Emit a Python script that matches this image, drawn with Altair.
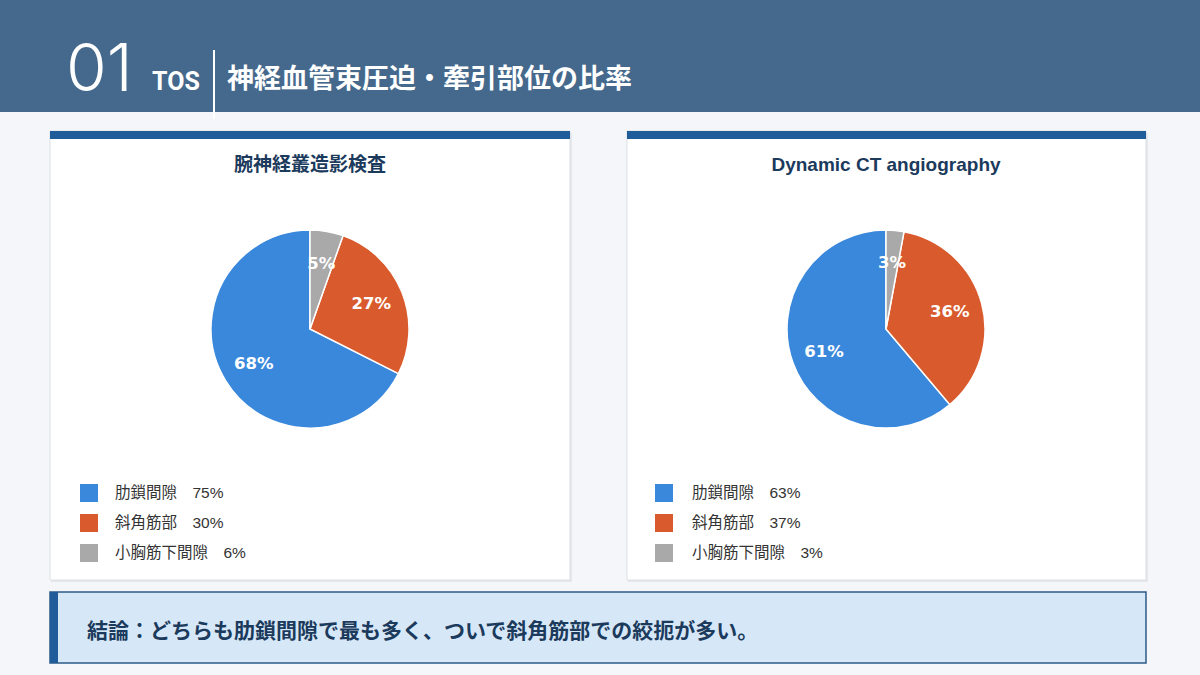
import altair as alt
import pandas as pd

# ---- data ----
categories = ["肋鎖間隙", "斜角筋部", "小胸筋下間隙"]
left_values = [75, 30, 6]
right_values = [63, 37, 3]
colors = ["#3a88dc", "#d95a2c", "#a9a9a9"]
left_title = "腕神経叢造影検査"
right_title = "Dynamic CT angiography"
header_num = "01"
header_tag = "TOS"
header_title = "神経血管束圧迫・牽引部位の比率"
conclusion = "結論：どちらも肋鎖間隙で最も多く、ついで斜角筋部での絞扼が多い。"

W, H = 1200, 675
JP = "'Noto Sans CJK JP', 'Noto Sans'"
LEG_FONT = "'Liberation Sans', 'Noto Sans CJK JP'"

one = pd.DataFrame({"a": [0]})


def rect(x, x2, y, y2, **kw):
    return alt.Chart(one).mark_rect(**kw).encode(
        x=alt.value(x), x2=alt.value(x2), y=alt.value(y), y2=alt.value(y2)
    )


def label(txt, x, y, **kw):
    return alt.Chart(one).mark_text(text=txt, **kw).encode(x=alt.value(x), y=alt.value(y))


def pie_df(values):
    n = len(categories)
    return pd.DataFrame({
        "cat": categories,
        "value": values,
        "ord": [n - 1 - i for i in range(n)],
    })


color_enc = alt.Color("cat:N", scale=alt.Scale(domain=categories, range=colors), legend=None)
leg_y = alt.Y("cat:N", scale=alt.Scale(domain=categories, range=[493, 553], padding=0), axis=None)


def pie_layers(values, cx, cy, legx, legtx):
    base = (
        alt.Chart(pie_df(values))
        .transform_joinaggregate(total="sum(value)")
        .transform_calculate(pct="datum.value / datum.total",
                             plabel="format(datum.value / datum.total, '.0%')",
                             leg="datum.cat + '\u3000' + datum.value + '%'")
    )
    arcs = base.mark_arc(radius=99, stroke="white", strokeWidth=1.5).encode(
        theta=alt.Theta("pct:Q", stack=True),
        color=color_enc,
        order=alt.Order("ord:Q"),
        x=alt.value(cx), y=alt.value(cy),
    )
    txt = base.mark_text(radius=66, font="DejaVu Sans", fontWeight="bold", fontSize=16.5,
                         color="white").encode(
        theta=alt.Theta("pct:Q", stack=True),
        detail="cat:N",
        order=alt.Order("ord:Q"),
        text="plabel:N",
        x=alt.value(cx), y=alt.value(cy),
    )
    sq = base.mark_square(size=324, opacity=1).encode(
        x=alt.value(legx), y=leg_y, color=color_enc,
    )
    lt = base.mark_text(align="left", baseline="middle", fontSize=15.5, font=LEG_FONT,
                        color="#333333").encode(
        x=alt.value(legtx), y=leg_y, text="leg:N",
    )
    return [arcs, txt, sq, lt]


layers = [
    # header band
    rect(0, W, 0, 112, color="#45698c"),
    label(header_num, 66, 71, font="Inter", fontWeight=300, fontSize=66, color="white",
          align="left", baseline="middle"),
    label(header_tag, 152, 82, font="'Liberation Sans Narrow', 'Roboto'", fontWeight="bold",
          fontSize=25, color="white", align="left", baseline="middle"),
    rect(213, 215, 50, 119, color="white"),
    label(header_title, 227, 80, font=JP, fontWeight="bold", fontSize=27, color="white",
          align="left", baseline="middle"),
    # panels (shadow, body, top bar)
    rect(51, 572, 133, 582, color="#000000", opacity=0.06),
    rect(50, 570, 131, 580, color="white", stroke="#dbe0e6", strokeWidth=1),
    rect(50, 570, 131, 139, color="#1f5c99"),
    rect(628, 1148, 133, 582, color="#000000", opacity=0.06),
    rect(627, 1146, 131, 580, color="white", stroke="#dbe0e6", strokeWidth=1),
    rect(627, 1146, 131, 139, color="#1f5c99"),
    label(left_title, 310, 165, font=JP, fontWeight="bold", fontSize=19, color="#1b3a5c",
          align="center", baseline="middle"),
    label(right_title, 886, 165, font="'Liberation Sans', 'Noto Sans'", fontWeight="bold",
          fontSize=19, color="#1b3a5c", align="center", baseline="middle"),
]
layers += pie_layers(left_values, 310, 329, 89, 115)
layers += pie_layers(right_values, 886, 329, 664, 692)
layers += [
    rect(50, 1146, 592, 663, color="#d6e8f8", stroke="#2c5a85", strokeWidth=1.5),
    rect(50, 58, 592, 663, color="#1f5c99"),
    label(conclusion, 87, 632, font=JP, fontWeight="bold", fontSize=21, color="#1b3a5c",
          align="left", baseline="middle"),
]

chart = (
    alt.layer(*layers)
    .properties(width=W, height=H, autosize=alt.AutoSizeParams(type="none"), padding=0,
                background="#f4f6f9")
    .configure_view(strokeWidth=0)
)

chart.save("out.html", embed_options={"renderer": "svg", "actions": False})
